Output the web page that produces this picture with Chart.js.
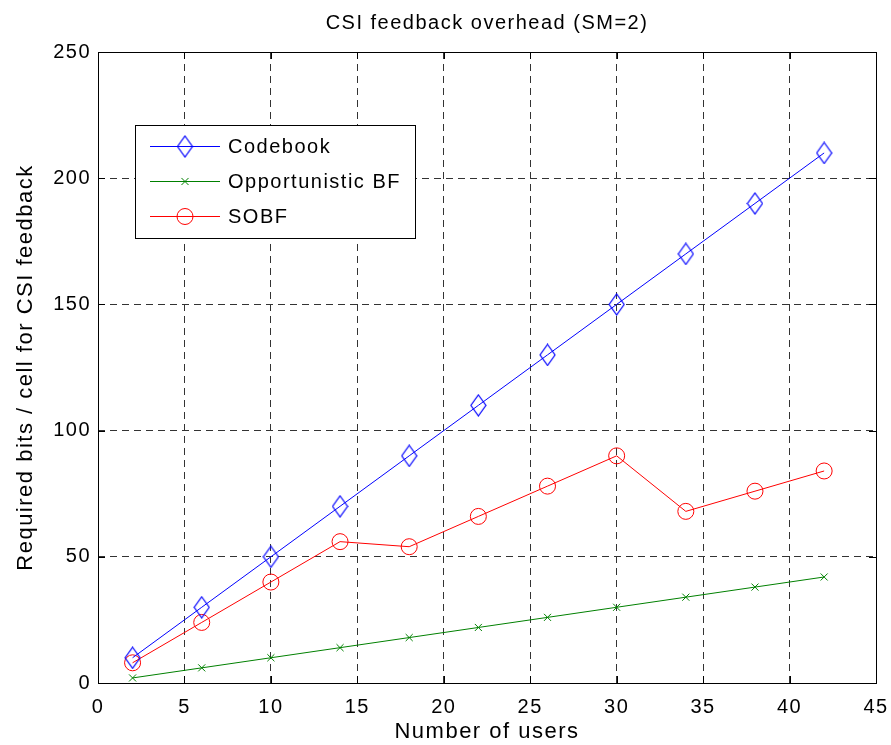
<!DOCTYPE html>
<html>
<head>
<meta charset="utf-8">
<script src="https://cdn.jsdelivr.net/npm/chart.js@4/dist/chart.umd.min.js"></script>
<style>
  html, body { margin: 0; padding: 0; background: #fff; }
  #wrap { width: 891px; height: 745px; }
</style>
</head>
<body>
<div id="wrap"><canvas id="chart" width="891" height="745"></canvas></div>
<script>
// values
const users = [2, 6, 10, 14, 18, 22, 26, 30, 34, 38, 42];
const codebook = [10, 30, 50, 70, 90, 110, 130, 150, 170, 190, 210];
const opportunisticBF = [2, 6, 10, 14, 18, 22, 26, 30, 34, 38, 42];
const sobf = [8, 24, 40, 56, 54, 66, 78, 90, 68, 76, 84];

const seriesNames = ['Codebook', 'Opportunistic BF', 'SOBF'];
const xTicks = [0, 5, 10, 15, 20, 25, 30, 35, 40, 45];
const yTicks = [0, 50, 100, 150, 200, 250];

const FONT = "'Liberation Sans', Arial, Helvetica, sans-serif";

function toPoints(values) {
  return users.map((u, i) => ({ x: u, y: values[i] }));
}

// matlab's diamond marker is a bit taller than wide
function makeDiamond(color) {
  const c = document.createElement('canvas');
  c.width = 17;
  c.height = 23;
  const g = c.getContext('2d');
  g.strokeStyle = color;
  g.lineWidth = 1.2;
  g.beginPath();
  g.moveTo(8.5, 1);
  g.lineTo(16, 11.5);
  g.lineTo(8.5, 22);
  g.lineTo(1, 11.5);
  g.closePath();
  g.stroke();
  return c;
}
const diamond = makeDiamond('#0000ff');

// matlab renders its text quite spread out
const textSpacing = {
  id: 'textSpacing',
  beforeDraw(chart) {
    chart.ctx.letterSpacing = '1.5px';
  }
};

// MATLAB-style box, inward ticks and the legend panel
const matlabAxes = {
  id: 'matlabAxes',
  afterDraw(chart) {
    const { ctx, chartArea: a, scales } = chart;
    const tick = 7;
    ctx.save();
    ctx.strokeStyle = '#000';
    ctx.lineWidth = 1;
    ctx.setLineDash([]);
    ctx.beginPath();
    xTicks.forEach(v => {
      const px = Math.round(scales.x.getPixelForValue(v)) + 0.5;
      ctx.moveTo(px, a.bottom); ctx.lineTo(px, a.bottom - tick);
      ctx.moveTo(px, a.top); ctx.lineTo(px, a.top + tick);
    });
    yTicks.forEach(v => {
      const py = Math.round(scales.y.getPixelForValue(v)) + 0.5;
      ctx.moveTo(a.left, py); ctx.lineTo(a.left + tick, py);
      ctx.moveTo(a.right, py); ctx.lineTo(a.right - tick, py);
    });
    ctx.stroke();
    ctx.strokeRect(Math.round(a.left) + 0.5, Math.round(a.top) + 0.5,
      Math.round(a.right - a.left), Math.round(a.bottom - a.top));

    // legend
    const lx = 135, ly = 125, lw = 280, lh = 113;
    ctx.fillStyle = '#fff';
    ctx.fillRect(lx, ly, lw, lh);
    ctx.strokeRect(lx + 0.5, ly + 0.5, lw, lh);
    const rows = [146, 181, 216];
    chart.data.datasets.forEach((ds, i) => {
      const y = rows[i];
      ctx.strokeStyle = ds.borderColor;
      ctx.lineWidth = 1;
      ctx.beginPath();
      ctx.moveTo(150, y + 0.5);
      ctx.lineTo(220, y + 0.5);
      ctx.stroke();
      ctx.fillStyle = 'rgba(0,0,0,0)';
      Chart.helpers.drawPoint(ctx, {
        pointStyle: ds.pointStyle,
        radius: ds.pointRadius,
        rotation: 0,
        borderWidth: 1
      }, 185, y + 0.5);
      ctx.fillStyle = '#000';
      ctx.font = '20px ' + FONT;
      ctx.textBaseline = 'middle';
      ctx.textAlign = 'left';
      ctx.fillText(ds.label, 228, y + 1);
    });
    ctx.restore();
  }
};

const ctx = document.getElementById('chart').getContext('2d');
new Chart(ctx, {
  type: 'line',
  data: {
    datasets: [
      {
        label: seriesNames[0],
        data: toPoints(codebook),
        borderColor: '#0000ff',
        backgroundColor: 'transparent',
        pointStyle: diamond,
        pointRadius: 8,
        pointBorderColor: '#0000ff',
        pointBackgroundColor: 'transparent',
        borderWidth: 1,
        pointBorderWidth: 1
      },
      {
        label: seriesNames[1],
        data: toPoints(opportunisticBF),
        borderColor: '#008000',
        backgroundColor: 'transparent',
        pointStyle: 'crossRot',
        pointRadius: 5,
        pointBorderColor: '#008000',
        borderWidth: 1,
        pointBorderWidth: 1
      },
      {
        label: seriesNames[2],
        data: toPoints(sobf),
        borderColor: '#ff0000',
        backgroundColor: 'transparent',
        pointStyle: 'circle',
        pointRadius: 8,
        pointBorderColor: '#ff0000',
        pointBackgroundColor: 'transparent',
        borderWidth: 1,
        pointBorderWidth: 1
      }
    ]
  },
  options: {
    responsive: false,
    animation: false,
    events: [],
    layout: { padding: { left: 0, right: 15, top: 0, bottom: 0 } },
    plugins: {
      legend: { display: false },
      tooltip: { enabled: false },
      title: {
        display: true,
        fullSize: false,
        text: 'CSI feedback overhead (SM=2)',
        color: '#000',
        font: { family: FONT, size: 20, weight: 'normal' },
        padding: { top: 11, bottom: 17 }
      }
    },
    scales: {
      x: {
        type: 'linear',
        min: 0,
        max: 45,
        afterFit(scale) {
          scale.height = 62;
          scale.paddingRight = 0;
          scale.paddingLeft = 0;
        },
        afterBuildTicks(scale) { scale.ticks = xTicks.map(v => ({ value: v })); },
        ticks: {
          color: '#000',
          font: { family: FONT, size: 20 },
          padding: 12,
          maxRotation: 0
        },
        grid: {
          color: '#333',
          lineWidth: 1,
          drawTicks: false,
          tickLength: 0
        },
        border: { display: false, dash: [7, 5] },
        title: {
          display: true,
          text: 'Number of users',
          color: '#000',
          font: { family: FONT, size: 22 },
          padding: { top: 0, bottom: 0 }
        }
      },
      y: {
        type: 'linear',
        min: 0,
        max: 250,
        afterFit(scale) { scale.width = 98; },
        afterBuildTicks(scale) { scale.ticks = yTicks.map(v => ({ value: v })); },
        ticks: {
          color: '#000',
          font: { family: FONT, size: 20 },
          padding: 7
        },
        grid: {
          color: '#333',
          lineWidth: 1,
          drawTicks: false,
          tickLength: 0
        },
        border: { display: false, dash: [7, 5] },
        title: {
          display: true,
          text: 'Required bits / cell for CSI feedback',
          color: '#000',
          font: { family: FONT, size: 22 },
          padding: { top: 13, bottom: 0 }
        }
      }
    }
  },
  plugins: [textSpacing, matlabAxes]
});
</script>
</body>
</html>
